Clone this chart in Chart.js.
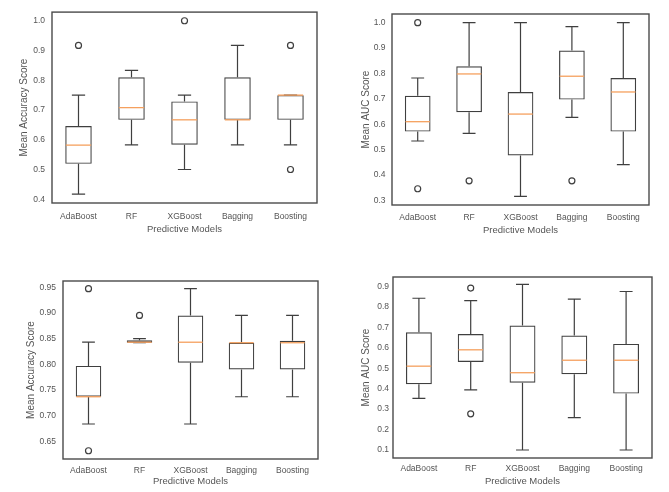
<!DOCTYPE html>
<html>
<head>
<meta charset="utf-8">
<title>Predictive models</title>
<script src="https://cdn.jsdelivr.net/npm/chart.js@4.4.0/dist/chart.umd.min.js"></script>
<style>
  html, body { margin: 0; padding: 0; background: #fff; }
  #wrap { position: relative; width: 669px; height: 492px; overflow: hidden; }
  canvas { position: absolute; }
</style>
</head>
<body>
<div id="wrap">
  <canvas id="c1" width="335" height="246" style="left:0;top:0"></canvas>
  <canvas id="c2" width="334" height="246" style="left:335px;top:0"></canvas>
  <canvas id="c3" width="335" height="246" style="left:0;top:246px"></canvas>
  <canvas id="c4" width="334" height="246" style="left:335px;top:246px"></canvas>
</div>
<script>
const models = ['AdaBoost', 'RF', 'XGBoost', 'Bagging', 'Boosting'];

// top left: accuracy
const acc1Low  = [0.417, 0.583, 0.500, 0.583, 0.583];
const acc1Q1   = [0.519, 0.667, 0.583, 0.667, 0.667];
const acc1Med  = [0.582, 0.708, 0.667, 0.667, 0.750];
const acc1Q3   = [0.646, 0.810, 0.729, 0.810, 0.750];
const acc1High = [0.750, 0.833, 0.750, 0.917, 0.750];
const acc1Out  = [[0.917], [], [1.0], [], [0.917, 0.500]];
const acc1Ticks = [0.4, 0.5, 0.6, 0.7, 0.8, 0.9, 1.0];

// top right: AUC
const auc1Low  = [0.534, 0.564, 0.316, 0.627, 0.441];
const auc1Q1   = [0.571, 0.647, 0.477, 0.697, 0.571];
const auc1Med  = [0.610, 0.798, 0.640, 0.789, 0.727];
const auc1Q3   = [0.712, 0.828, 0.727, 0.890, 0.782];
const auc1High = [0.782, 1.000, 1.000, 0.984, 1.000];
const auc1Out  = [[1.0, 0.346], [0.377], [], [0.377], []];
const auc1Ticks = [0.3, 0.4, 0.5, 0.6, 0.7, 0.8, 0.9, 1.0];

// bottom left: accuracy
const acc2Low  = [0.684, 0.842, 0.684, 0.737, 0.737];
const acc2Q1   = [0.737, 0.842, 0.803, 0.790, 0.790];
const acc2Med  = [0.737, 0.843, 0.843, 0.842, 0.842];
const acc2Q3   = [0.797, 0.847, 0.895, 0.842, 0.846];
const acc2High = [0.843, 0.850, 0.947, 0.895, 0.895];
const acc2Out  = [[0.947, 0.632], [0.895], [], [], []];
const acc2Ticks = [0.65, 0.70, 0.75, 0.80, 0.85, 0.90, 0.95];

// bottom right: AUC
const auc2Low  = [0.353, 0.394, 0.100, 0.258, 0.100];
const auc2Q1   = [0.422, 0.531, 0.429, 0.471, 0.376];
const auc2Med  = [0.510, 0.590, 0.478, 0.539, 0.539];
const auc2Q3   = [0.676, 0.667, 0.709, 0.660, 0.619];
const auc2High = [0.842, 0.830, 0.910, 0.838, 0.875];
const auc2Out  = [[], [0.892, 0.277], [], [], []];
const auc2Ticks = [0.1, 0.2, 0.3, 0.4, 0.5, 0.6, 0.7, 0.8, 0.9];

const LINE = '#3f3f3f';
const TEXT = '#555';
const MEDIAN = '#f5a05e';
const FONT = "'Liberation Sans', Arial, sans-serif";

// whiskers, caps, medians and the frame round the plot
function boxPlugin(low, q1, med, q3, high) {
  return {
    id: 'boxes',
    beforeDatasetsDraw(chart) {
      const {ctx, scales: {x, y}} = chart;
      const bars = chart.getDatasetMeta(0).data;
      ctx.save();
      ctx.strokeStyle = LINE;
      ctx.lineWidth = 1.2;
      low.forEach((lo, i) => {
        const cx = x.getPixelForValue(i);
        const cap = bars[i].width / 4;
        const yLo = y.getPixelForValue(lo), yHi = y.getPixelForValue(high[i]);
        const yQ1 = y.getPixelForValue(q1[i]), yQ3 = y.getPixelForValue(q3[i]);
        ctx.beginPath();
        ctx.moveTo(cx, yLo); ctx.lineTo(cx, yQ1);
        ctx.moveTo(cx, yQ3); ctx.lineTo(cx, yHi);
        ctx.moveTo(cx - cap, yLo); ctx.lineTo(cx + cap, yLo);
        ctx.moveTo(cx - cap, yHi); ctx.lineTo(cx + cap, yHi);
        ctx.stroke();
      });
      ctx.restore();
    },
    afterDatasetsDraw(chart) {
      const {ctx, chartArea: a, scales: {x, y}} = chart;
      const bars = chart.getDatasetMeta(0).data;
      ctx.save();
      ctx.strokeStyle = MEDIAN;
      ctx.lineWidth = 1.3;
      med.forEach((m, i) => {
        const cx = x.getPixelForValue(i);
        const half = bars[i].width / 2 - 0.6;
        const ym = y.getPixelForValue(m);
        ctx.beginPath();
        ctx.moveTo(cx - half, ym); ctx.lineTo(cx + half, ym);
        ctx.stroke();
      });
      ctx.strokeStyle = '#4a4a4a';
      ctx.lineWidth = 1.4;
      ctx.strokeRect(a.left, a.top, a.right - a.left, a.bottom - a.top);
      ctx.restore();
    }
  };
}

function makeChart(id, yTitle, low, q1, med, q3, high, out, yTicks, digits, lay) {
  const outliers = [];
  out.forEach((vals, i) => vals.forEach(v => outliers.push({x: models[i], y: v})));

  return new Chart(document.getElementById(id), {
    type: 'bar',
    data: {
      labels: models,
      datasets: [{
        data: models.map((m, i) => [q1[i], q3[i]]),
        backgroundColor: 'rgba(255,255,255,0)',
        borderColor: LINE,
        borderWidth: 1.2,
        borderSkipped: false,
        barPercentage: 0.5,
        categoryPercentage: 1.0
      }, {
        type: 'scatter',
        data: outliers,
        pointRadius: 3,
        pointBorderWidth: 1.2,
        pointBorderColor: LINE,
        pointBackgroundColor: 'rgba(255,255,255,0)'
      }]
    },
    options: {
      responsive: false,
      animation: false,
      layout: {padding: {left: lay.pl, top: lay.pt, right: lay.pr, bottom: lay.pb}},
      plugins: {legend: {display: false}, tooltip: {enabled: false}},
      scales: {
        x: {
          type: 'category',
          offset: true,
          grid: {display: false, drawTicks: false},
          border: {display: false},
          ticks: {color: TEXT, padding: lay.xtp, font: {family: FONT, size: 8.5}},
          title: {display: true, text: 'Predictive Models', color: TEXT, padding: 0,
                  font: {family: FONT, size: 9.5}},
          afterFit: s => { s.height = lay.xh; }
        },
        y: {
          min: lay.min,
          max: lay.max,
          grid: {display: false, drawTicks: false},
          border: {display: false},
          ticks: {color: TEXT, padding: lay.ytp, font: {family: FONT, size: 8.5},
                  callback: v => Number(v).toFixed(digits)},
          title: {display: true, text: yTitle, color: TEXT, padding: 0,
                  font: {family: FONT, size: 10}},
          afterBuildTicks: s => { s.ticks = yTicks.map(v => ({value: v})); },
          afterFit: s => { s.width = lay.yw; }
        }
      }
    },
    plugins: [boxPlugin(low, q1, med, q3, high)]
  });
}

makeChart('c1', 'Mean Accuracy Score', acc1Low, acc1Q1, acc1Med, acc1Q3, acc1High, acc1Out, acc1Ticks, 1,
  {pl: 18, pt: 10, pr: 18, pb: 11, yw: 34, xh: 32, ytp: 7, xtp: 8.5, min: 0.3875, max: 1.029});
makeChart('c2', 'Mean AUC Score', auc1Low, auc1Q1, auc1Med, auc1Q3, auc1High, auc1Out, auc1Ticks, 1,
  {pl: 25, pt: 14, pr: 20, pb: 10, yw: 32, xh: 31, ytp: 6.5, xtp: 8, min: 0.282, max: 1.034});
makeChart('c3', 'Mean Accuracy Score', acc2Low, acc2Q1, acc2Med, acc2Q3, acc2High, acc2Out, acc2Ticks, 2,
  {pl: 25, pt: 35, pr: 17, pb: 5, yw: 38, xh: 28, ytp: 7, xtp: 7, min: 0.616, max: 0.962});
makeChart('c4', 'Mean AUC Score', auc2Low, auc2Q1, auc2Med, auc2Q3, auc2High, auc2Out, auc2Ticks, 1,
  {pl: 25, pt: 31, pr: 17, pb: 5, yw: 33, xh: 29, ytp: 4, xtp: 5.5, min: 0.061, max: 0.946});
</script>
</body>
</html>
